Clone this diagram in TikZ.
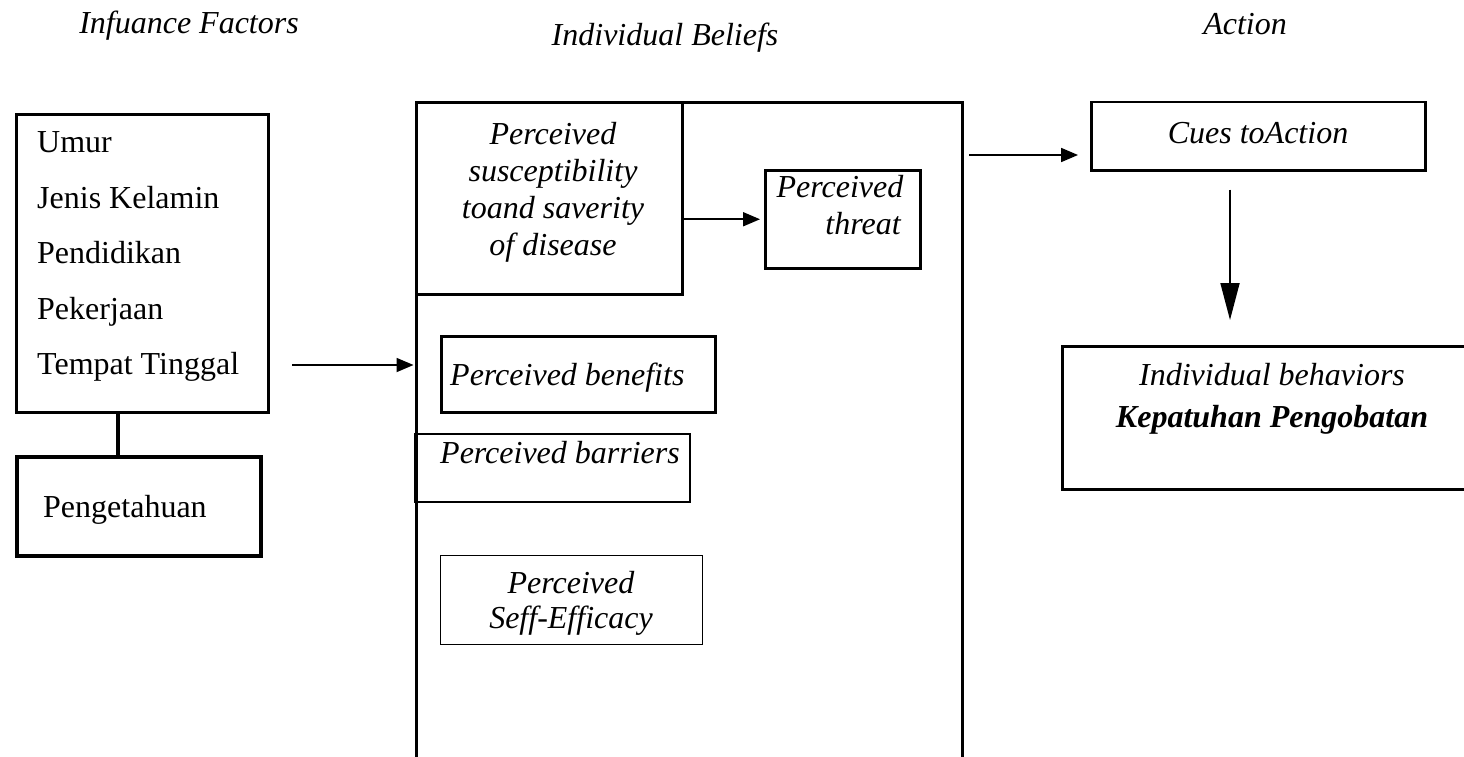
\documentclass[tikz,border=0pt]{standalone}
\usepackage{fontspec}
\setmainfont{Liberation Serif}
\usetikzlibrary{arrows.meta,calc}
\begin{document}
\begin{tikzpicture}[x=1pt,y=-1pt,
  frame/.style={draw,line width=#1,inner sep=0pt,anchor=north west},
  frame/.default=2.5pt,
  lbl/.style={inner sep=0pt,font=\fontsize{32}{37}\selectfont},
  ilbl/.style={inner sep=0pt,font=\fontsize{32}{37}\selectfont\itshape},
  flow/.style={line width=1.8pt,-{Triangle[length=17pt,width=14pt]}},
  ]
\useasboundingbox (0,0) rectangle (1464,757);
\clip (0,0) rectangle (1464,757);

% column headings
\node[ilbl,anchor=base] (hfac) at (189,34) {Infuance Factors};
\node[ilbl,anchor=base] (hbel) at (665,46) {Individual Beliefs};
\node[ilbl,anchor=base] (hact) at (1245,35) {Action};

% boxes
\node[frame=3pt,minimum width=252pt,minimum height=298pt] (factors) at (15,113) {};
\node[frame=3.5pt,minimum width=244pt,minimum height=99pt] (knowledge) at (15,455) {};
\node[frame=3pt,minimum width=546pt,minimum height=700pt] (beliefs) at (415,101) {};
\node[frame=3pt,minimum width=266pt,minimum height=192pt] (suscept) at (415,101) {};
\node[frame=2.5pt,minimum width=155pt,minimum height=98pt] (threat) at (764,169) {};
\node[frame=2.5pt,minimum width=274pt,minimum height=76pt] (benefits) at (440,335) {};
\node[frame=2pt,minimum width=275pt,minimum height=68pt] (barriers) at (414,433) {};
\node[frame=1pt,minimum width=262pt,minimum height=89pt] (efficacy) at (440,555) {};
\node[frame=2.5pt,minimum width=334pt,minimum height=68pt] (cues) at (1090,101) {};
\node[frame=2.5pt,minimum width=440pt,minimum height=143pt] (behavior) at (1061,345) {};

% influence factors
\node[lbl,anchor=base west] (f1) at (37,153) {Umur};
\node[lbl,anchor=base west] (f2) at (37,208) {Jenis Kelamin};
\node[lbl,anchor=base west] (f3) at (37,263) {Pendidikan};
\node[lbl,anchor=base west] (f4) at (37,319) {Pekerjaan};
\node[lbl,anchor=base west] (f5) at (37,374) {Tempat Tinggal};
\node[lbl,anchor=base west] (k1) at (43,517) {Pengetahuan};

% individual beliefs
\node[ilbl,anchor=base] (s1) at (553,144) {Perceived};
\node[ilbl,anchor=base] (s2) at (553,181) {susceptibility};
\node[ilbl,anchor=base] (s3) at (553,218) {toand saverity};
\node[ilbl,anchor=base] (s4) at (553,255) {of disease};
\node[ilbl,anchor=base] (th1) at (840,197) {Perceived};
\node[ilbl,anchor=base] (th2) at (863,234) {threat};
\node[ilbl,anchor=base west] (bn) at (450,385) {Perceived benefits};
\node[ilbl,anchor=base west] (br) at (440,463) {Perceived barriers};
\node[ilbl,anchor=base] (e1) at (571,593) {Perceived};
\node[ilbl,anchor=base] (e2) at (571,628) {Seff-Efficacy};

% action
\node[ilbl,anchor=base] (c1) at (1258,143) {Cues toAction};
\node[ilbl,anchor=base] (b1) at (1272,385) {Individual behaviors};
\node[ilbl,anchor=base] (b2) at (1272,427) {\bfseries Kepatuhan Pengobatan};

% connectors
\coordinate (kx) at (118,0);
\draw[line width=4pt] (factors.south -| kx) -- (knowledge.north -| kx);
\coordinate (inA) at (292,365);
\draw[flow,shorten >=1.5pt] (inA) -- (inA -| beliefs.west);
\draw[flow,shorten >=4pt] (threat.west -| suscept.east) -- (threat.west);
\coordinate (outA) at (969,155);
\draw[flow,shorten >=12pt] (outA) -- (outA -| cues.west);
\coordinate (dn) at (1230,0);
\draw[line width=1.8pt,-{Triangle[length=37pt,width=19pt]},shorten <=18pt,shorten >=25pt]
  (cues.south -| dn) -- (behavior.north -| dn);
\end{tikzpicture}
\end{document}
